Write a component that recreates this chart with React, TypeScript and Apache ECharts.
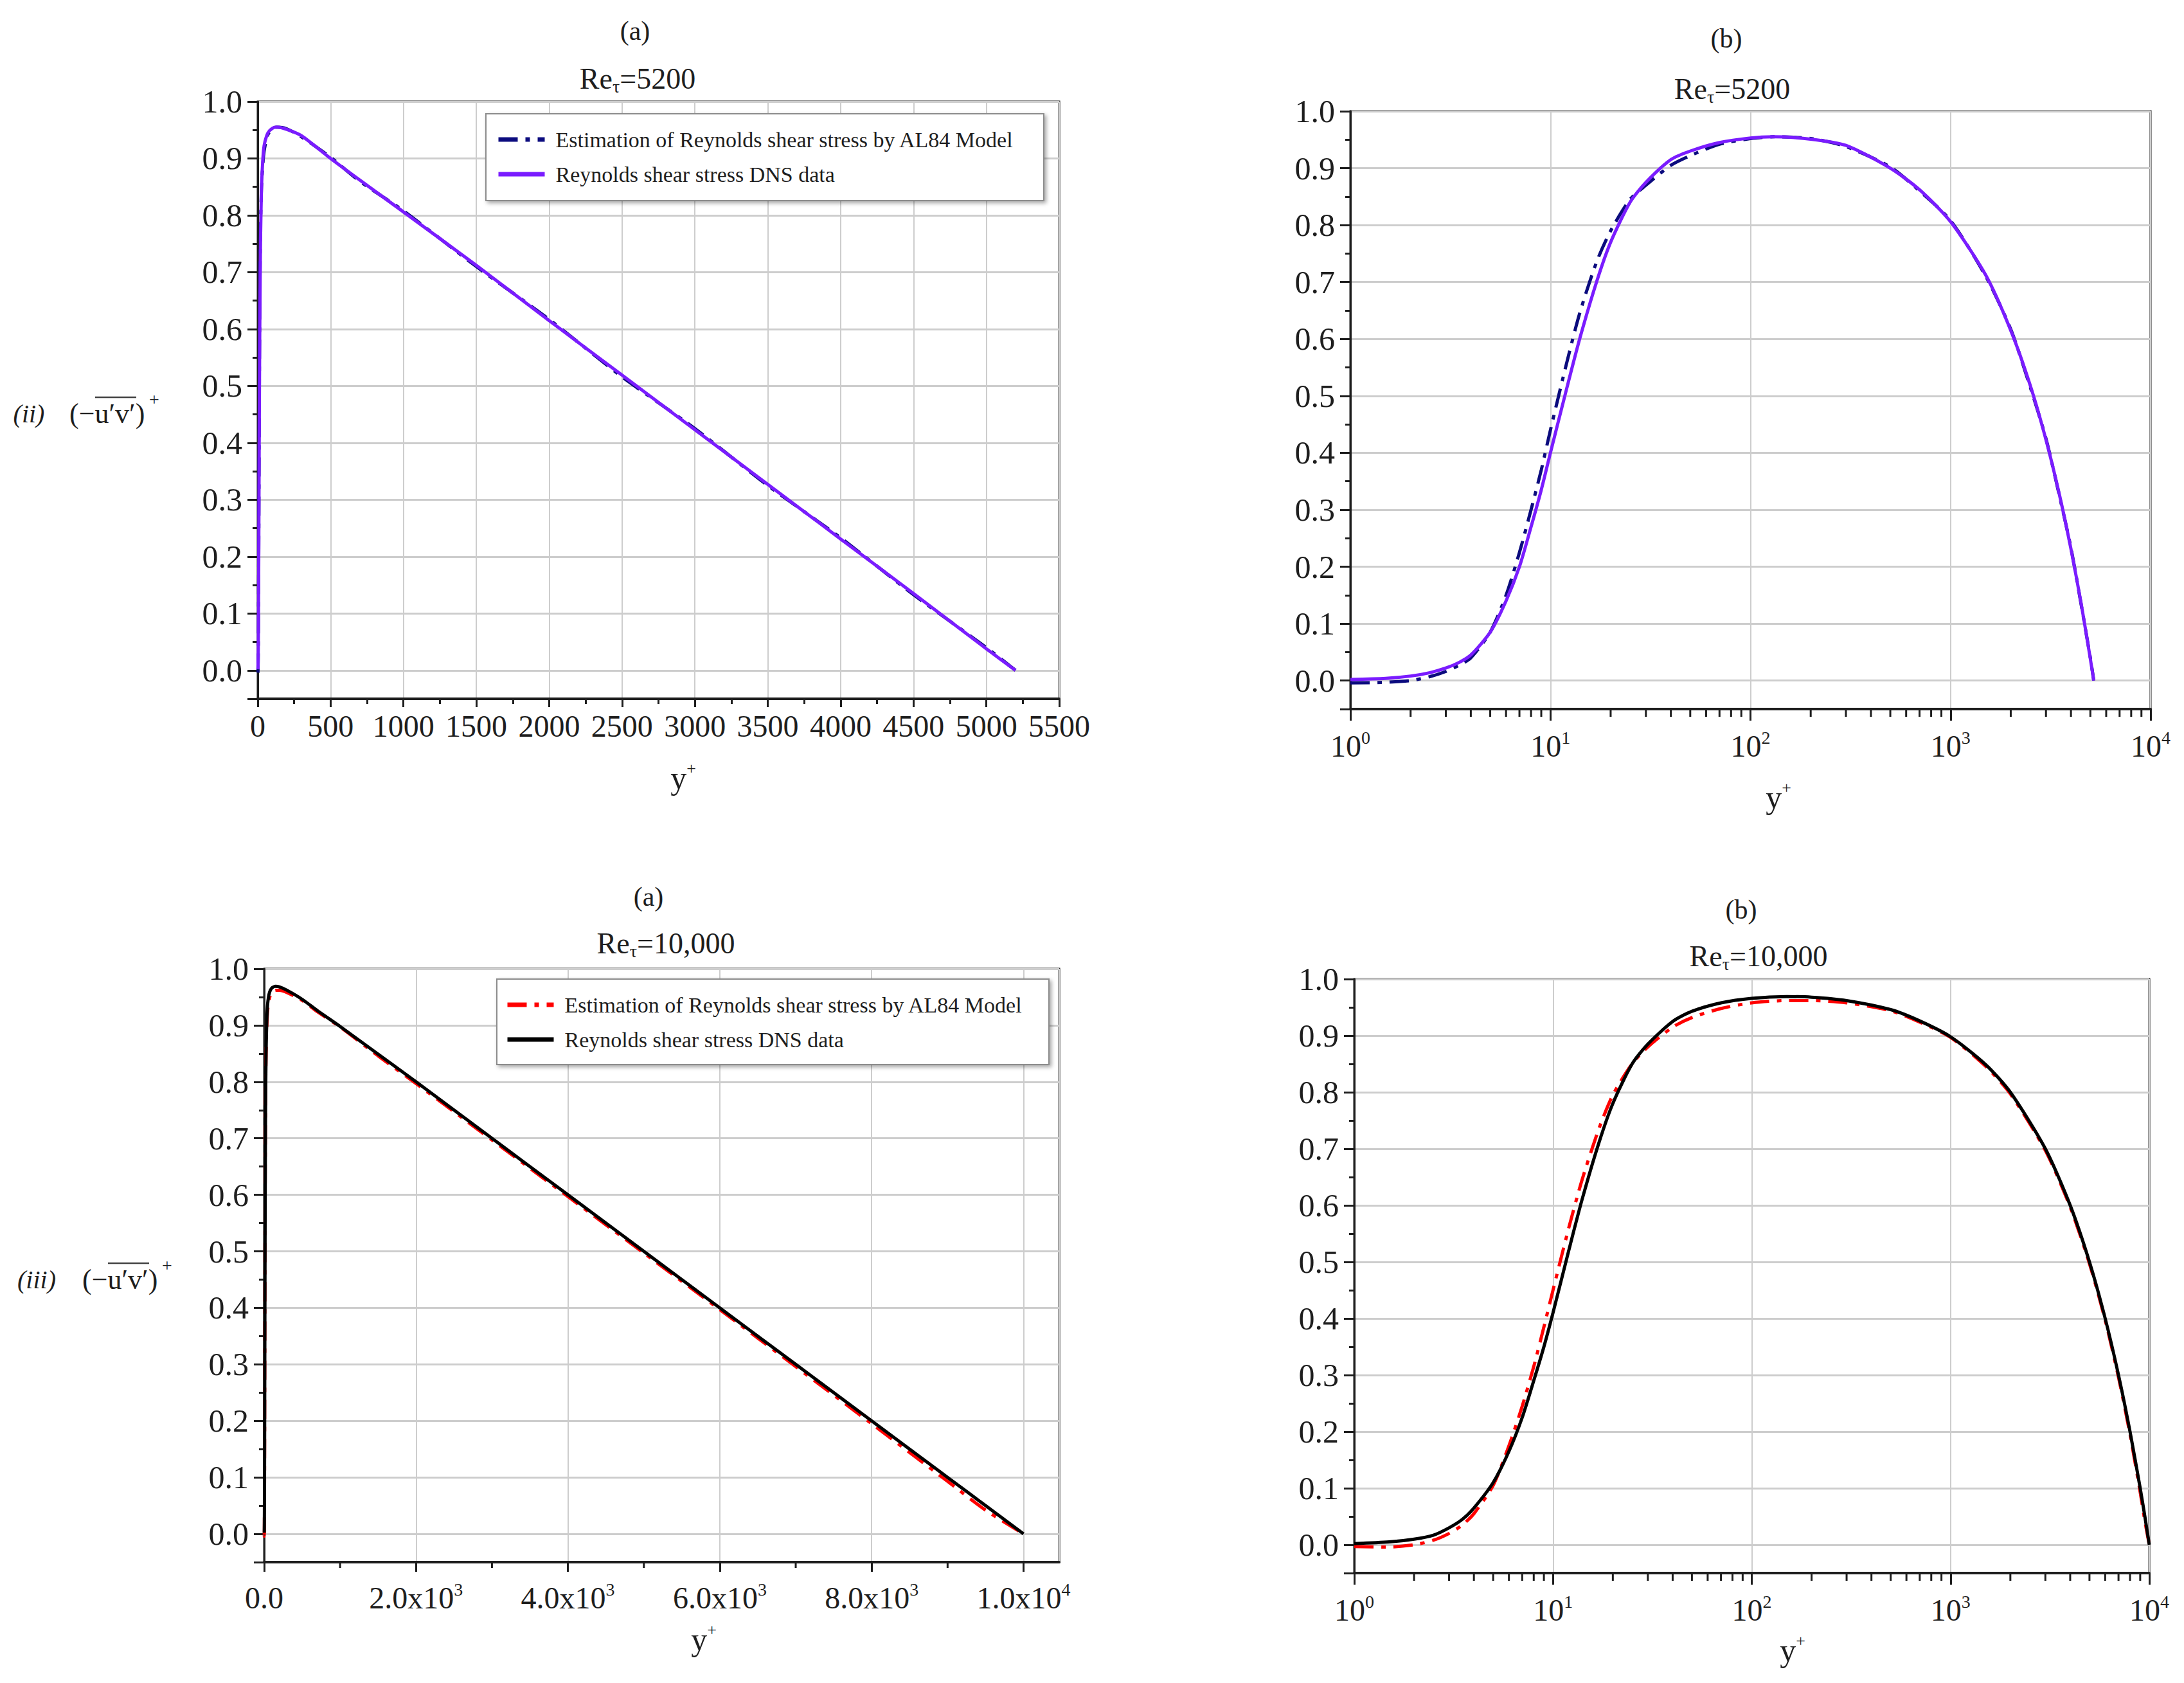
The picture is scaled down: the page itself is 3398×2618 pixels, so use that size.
import React, { useEffect, useRef } from "react";
import * as echarts from "echarts";

// ---------- data ----------
const yPlus5200 = [1, 1.5, 2, 2.5, 3, 3.5, 4, 5, 6, 7, 8, 9, 10, 12, 14, 17, 20, 25, 30, 40, 50, 70, 100, 130, 200, 300, 500, 700, 1000, 1500, 2000, 2500, 3000, 3500, 4000, 4500, 5000, 5200];
const dnsRe5200 = [0.002, 0.004, 0.008, 0.014, 0.022, 0.032, 0.045, 0.085, 0.14, 0.2, 0.27, 0.335, 0.4, 0.51, 0.6, 0.7, 0.77, 0.84, 0.875, 0.915, 0.93, 0.945, 0.953, 0.955, 0.951, 0.94, 0.9, 0.862, 0.806, 0.712, 0.615, 0.519, 0.423, 0.327, 0.231, 0.135, 0.038, 0.0];
const modelRe5200 = [-0.004, -0.003, 0.0, 0.007, 0.016, 0.027, 0.04, 0.085, 0.15, 0.225, 0.3, 0.37, 0.44, 0.555, 0.645, 0.735, 0.79, 0.845, 0.87, 0.905, 0.922, 0.942, 0.952, 0.955, 0.952, 0.938, 0.902, 0.86, 0.808, 0.71, 0.617, 0.516, 0.425, 0.325, 0.233, 0.133, 0.04, 0.0];

const yPlus10000 = [1, 1.5, 2, 2.5, 3, 3.5, 4, 5, 6, 7, 8, 9, 10, 12, 14, 17, 20, 25, 30, 40, 50, 70, 100, 150, 200, 300, 500, 700, 1000, 1500, 2000, 3000, 4000, 5000, 6000, 7000, 8000, 9000, 9500, 10000];
const dnsRe10000 = [0.002, 0.005, 0.01, 0.017, 0.03, 0.045, 0.065, 0.11, 0.165, 0.225, 0.29, 0.35, 0.41, 0.52, 0.61, 0.71, 0.78, 0.85, 0.885, 0.925, 0.943, 0.958, 0.966, 0.969, 0.968, 0.962, 0.946, 0.926, 0.898, 0.849, 0.8, 0.7, 0.6, 0.5, 0.4, 0.3, 0.2, 0.1, 0.05, 0.0];
const modelRe10000 = [-0.003, -0.004, 0.0, 0.008, 0.02, 0.035, 0.055, 0.105, 0.175, 0.245, 0.315, 0.385, 0.45, 0.56, 0.645, 0.735, 0.795, 0.85, 0.88, 0.915, 0.932, 0.948, 0.958, 0.962, 0.962, 0.958, 0.944, 0.924, 0.897, 0.846, 0.797, 0.697, 0.597, 0.497, 0.397, 0.296, 0.195, 0.093, 0.042, 0.0];

const logMinorTicks = [2, 3, 4, 5, 6, 7, 8, 9, 20, 30, 40, 50, 60, 70, 80, 90, 200, 300, 400, 500, 600, 700, 800, 900, 2000, 3000, 4000, 5000, 6000, 7000, 8000, 9000];
const linMinorTicks10000 = [1000, 3000, 5000, 7000, 9000];

const LEGEND_TEXT: Record<string, string> = {
  model5200: "Estimation of Reynolds shear stress by AL84 Model",
  dns5200: "Reynolds shear stress DNS data",
  model10000: "Estimation of Reynolds shear stress by AL84 Model",
  dns10000: "Reynolds shear stress DNS data",
};

// ---------- styling ----------
const SERIF = '"Liberation Serif", "DejaVu Serif", serif';
const INK = "#1e1e1e";
const GRIDC = "#cdcdcd";
const Y_MIN = -0.05;
const NAVY = "#0b0b7e";
const PURPLE = "#7a1cff";
const RED = "#ff0000";
const BLACK = "#000000";

const supRich = {
  b: { fontSize: 48, fontFamily: SERIF, color: INK, lineHeight: 54 },
  s: { fontSize: 28, fontFamily: SERIF, color: INK, lineHeight: 26, verticalAlign: "top" },
};

function pts(xs: number[], ys: number[]) {
  return xs.map((x, i) => [x, ys[i]]);
}

function lineSeries(name: string, xs: number[], ys: number[], idx: number, color: string, dashed: boolean) {
  return {
    name,
    type: "line",
    xAxisIndex: idx,
    yAxisIndex: idx,
    data: pts(xs, ys),
    symbol: "none",
    showSymbol: false,
    smooth: 0.25,
    color,
    lineStyle: { color, width: 5, type: dashed ? [30, 12, 7, 12] : "solid" },
    z: dashed ? 2 : 2.5,
    silent: true,
  };
}

function minorTickSeries(ticks: number[], idx: number, len: number) {
  return {
    type: "custom",
    xAxisIndex: idx,
    yAxisIndex: idx,
    silent: true,
    clip: false,
    data: ticks.map((t) => [t, Y_MIN]),
    renderItem: (_p: any, api: any) => {
      const c = api.coord([api.value(0), api.value(1)]);
      return {
        type: "line",
        shape: { x1: c[0], y1: c[1], x2: c[0], y2: c[1] + len },
        style: { stroke: INK, lineWidth: 3 },
      };
    },
    z: 3,
  };
}

function yAxis(i: number) {
  return {
    type: "value",
    gridIndex: i,
    min: Y_MIN,
    max: 1,
    splitNumber: 11,
    axisLine: { show: true, onZero: false, lineStyle: { color: INK, width: 3 } },
    axisTick: { show: true, length: 16, lineStyle: { color: INK, width: 3 } },
    minorTick: { show: true, splitNumber: 2, length: 8, lineStyle: { color: INK, width: 3 } },
    axisLabel: {
      show: true,
      showMinLabel: false,
      margin: 24,
      fontSize: 50,
      fontFamily: SERIF,
      color: INK,
      formatter: (v: number) => (v < -1e-6 ? "" : v.toFixed(1)),
    },
    splitLine: { show: true, lineStyle: { color: GRIDC, width: 3 } },
  };
}

const xLine = { show: true, onZero: false, lineStyle: { color: INK, width: 4 } };

function logXAxis(i: number) {
  return {
    type: "log",
    gridIndex: i,
    logBase: 10,
    min: 1,
    max: 10000,
    splitNumber: 4,
    axisLine: xLine,
    axisTick: { show: true, length: 18, lineStyle: { color: INK, width: 3 } },
    axisLabel: {
      margin: 30,
      formatter: (v: number) => `{b|10}{s|${Math.round(Math.log10(v))}}`,
      rich: supRich,
    },
    splitLine: { show: true, lineStyle: { color: GRIDC, width: 2 } },
  };
}

function buildOption() {
  const grids = [
    { left: 401, top: 158, width: 1247, height: 929 },
    { left: 2101, top: 173, width: 1245, height: 930 },
    { left: 411, top: 1507, width: 1237, height: 923 },
    { left: 2107, top: 1523, width: 1237, height: 924 },
  ].map((g) => ({ ...g, show: true, borderColor: INK, borderWidth: 3, backgroundColor: "transparent", containLabel: false, outerBoundsMode: "none" }));

  const xAxes = [
    {
      type: "value",
      gridIndex: 0,
      min: 0,
      max: 5500,
      interval: 500,
      axisLine: xLine,
      axisTick: { show: true, length: 13, lineStyle: { color: INK, width: 3 } },
      minorTick: { show: true, splitNumber: 2, length: 8, lineStyle: { color: INK, width: 3 } },
      axisLabel: { margin: 18, fontSize: 48, fontFamily: SERIF, color: INK, formatter: (v: number) => String(Math.round(v)) },
      splitLine: { show: true, lineStyle: { color: GRIDC, width: 2 } },
    },
    logXAxis(1),
    {
      type: "value",
      gridIndex: 2,
      min: 0,
      max: 10470,
      interval: 2000,
      axisLine: xLine,
      axisTick: { show: true, length: 15, lineStyle: { color: INK, width: 3 } },
      axisLabel: {
        margin: 28,
        showMaxLabel: false,
        formatter: (v: number) => {
          if (v === 0) return "{b|0.0}";
          if (v % 2000 !== 0) return "";
          const e = Math.floor(Math.log10(v) + 1e-9);
          const m = v / Math.pow(10, e);
          return `{b|${m.toFixed(1)}x10}{s|${e}}`;
        },
        rich: supRich,
      },
      splitLine: { show: true, lineStyle: { color: GRIDC, width: 2 } },
    },
    logXAxis(3),
  ];

  const series = [
    lineSeries("model5200", yPlus5200, modelRe5200, 0, NAVY, true),
    lineSeries("dns5200", yPlus5200, dnsRe5200, 0, PURPLE, false),
    lineSeries("model5200", yPlus5200, modelRe5200, 1, NAVY, true),
    lineSeries("dns5200", yPlus5200, dnsRe5200, 1, PURPLE, false),
    lineSeries("model10000", yPlus10000, modelRe10000, 2, RED, true),
    lineSeries("dns10000", yPlus10000, dnsRe10000, 2, BLACK, false),
    lineSeries("model10000", yPlus10000, modelRe10000, 3, RED, true),
    lineSeries("dns10000", yPlus10000, dnsRe10000, 3, BLACK, false),
    minorTickSeries(logMinorTicks, 1, 12),
    minorTickSeries(logMinorTicks, 3, 12),
    minorTickSeries(linMinorTicks10000, 2, 9),
  ];

  const legendBase = {
    orient: "vertical",
    padding: 0,
    itemWidth: 72,
    itemHeight: 14,
    itemGap: 20,
    selectedMode: false,
    z: 5,
    formatter: (n: string) => LEGEND_TEXT[n] || n,
    textStyle: { fontSize: 34, fontFamily: SERIF, color: INK, padding: [0, 0, 0, 12] },
    itemStyle: { opacity: 0, borderWidth: 0 },
    lineStyle: { width: 7 },
    backgroundColor: "transparent",
  };
  const legends = [
    { ...legendBase, data: ["model5200", "dns5200"], left: 772, top: 200 },
    { ...legendBase, data: ["model10000", "dns10000"], left: 786, top: 1546 },
  ];

  const text = (x: number, y: number, t: string, fontSize: number, extra: any = {}) => ({
    type: "text",
    x,
    y,
    z: 10,
    style: { text: t, fontSize, fontFamily: SERIF, fill: INK, align: "center", verticalAlign: "middle", ...extra },
  });

  const reTitle = (x: number, y: number, val: string) => ({
    type: "text",
    x,
    y,
    z: 10,
    style: {
      text: `{a|Re}{t|τ}{a|=${val}}`,
      align: "center",
      verticalAlign: "middle",
      rich: {
        a: { fontSize: 46, fontFamily: SERIF, fill: INK, lineHeight: 52 },
        t: { fontSize: 28, fontFamily: SERIF, fill: INK, lineHeight: 20, verticalAlign: "bottom" },
      },
    },
  });

  const yPlusLabel = (x: number, y: number) => ({
    type: "text",
    x,
    y,
    z: 10,
    style: {
      text: "{y|y}{p|+}",
      align: "center",
      verticalAlign: "middle",
      rich: {
        y: { fontSize: 50, fontFamily: SERIF, fill: INK, lineHeight: 56 },
        p: { fontSize: 26, fontFamily: SERIF, fill: INK, lineHeight: 24, verticalAlign: "top" },
      },
    },
  });

  const yTitle = (roman: string, rx: number, ex: number, y: number) => [
    text(rx, y, roman, 40, { fontStyle: "italic" }),
    text(ex, y, "(−u′v′)", 44, { align: "left" }),
    {
      type: "line",
      z: 10,
      shape: { x1: ex + 40, y1: y - 25, x2: ex + 104, y2: y - 25 },
      style: { stroke: "#444", lineWidth: 2.5 },
    },
    text(ex + 132, y - 22, "+", 28),
  ];

  const legendBox = (x: number, y: number, w: number, h: number) => ({
    type: "rect",
    z: 3,
    shape: { x, y, width: w, height: h },
    style: {
      fill: "#ffffff",
      stroke: "#8c8c8c",
      lineWidth: 2,
      shadowBlur: 6,
      shadowColor: "rgba(0,0,0,0.35)",
      shadowOffsetX: 3,
      shadowOffsetY: 3,
    },
  });

  const graphic = [
    legendBox(756, 177, 868, 135),
    legendBox(773, 1523, 859, 133),
    text(988, 48, "(a)", 42),
    reTitle(992, 122, "5200"),
    text(2686, 60, "(b)", 42),
    reTitle(2695, 138, "5200"),
    text(1009, 1395, "(a)", 42),
    reTitle(1036, 1467, "10,000"),
    text(2709, 1415, "(b)", 42),
    reTitle(2736, 1487, "10,000"),
    yPlusLabel(1063, 1210),
    yPlusLabel(2767, 1240),
    yPlusLabel(1095, 2550),
    yPlusLabel(2789, 2567),
    ...yTitle("(ii)", 45, 108, 643),
    ...yTitle("(iii)", 57, 128, 1990),
  ];

  return {
    animation: false,
    backgroundColor: "#ffffff",
    textStyle: { fontFamily: SERIF },
    grid: grids,
    xAxis: xAxes,
    yAxis: [0, 1, 2, 3].map(yAxis),
    legend: legends,
    series,
    graphic,
  };
}

export default function App() {
  const ref = useRef<HTMLDivElement>(null);
  useEffect(() => {
    if (!ref.current) return;
    const chart = echarts.init(ref.current, null, { renderer: "svg" });
    chart.setOption(buildOption() as any);
    return () => chart.dispose();
  }, []);
  return (
    <div
      ref={ref}
      style={{ position: "absolute", left: 0, top: 0, width: 3398, height: 2618, background: "#fff" }}
    />
  );
}
